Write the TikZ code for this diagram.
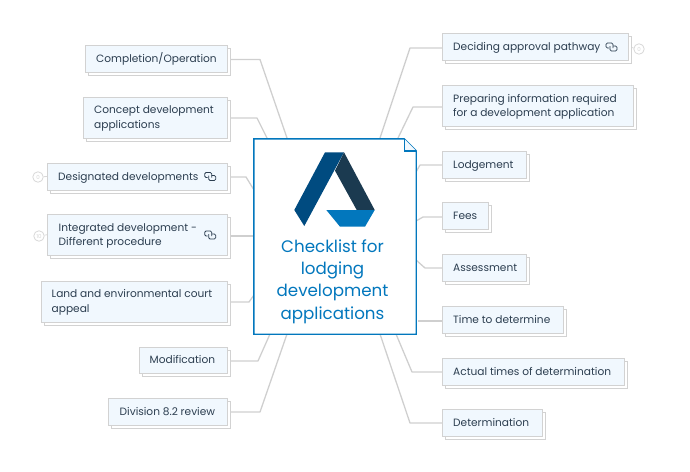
\documentclass[tikz,border=0pt]{standalone}
\usepackage{fontspec}
\setmainfont{Poppins}
\usetikzlibrary{shadows,backgrounds}
\definecolor{boxfill}{HTML}{F1F8FE}
\definecolor{boxline}{HTML}{D2D2D2}
\definecolor{wire}{HTML}{CFCFCF}
\definecolor{ink}{HTML}{2C3E50}
\definecolor{brand}{HTML}{0277BD}
\definecolor{logoa}{HTML}{004B80}
\definecolor{logob}{HTML}{1B3A50}
\definecolor{badge}{HTML}{D8D8D8}
\tikzset{
  topic/.style={draw=boxline,fill=boxfill,line width=1pt,inner sep=0pt,
    copy shadow={shadow xshift=3pt,shadow yshift=-3pt,draw=boxline,fill=white,line width=1pt}},
  wireline/.style={draw=wire,line width=1.3pt,line join=round},
  linkicon/.style={draw=ink,line width=0.75pt,rounded corners=1.3pt},
  badgec/.style={circle,draw=badge,line width=0.8pt,fill=white,minimum size=10.5pt,inner sep=0pt,text=badge,font=\fontsize{5.5}{6}\selectfont},
}
% name, x1, y1, x2, y2, text x, text
\newcommand{\tbox}[7]{%
  \node[topic,minimum width=#4pt-#2pt,minimum height=#5pt-#3pt] (#1) at ({(#2+#4)/2},{(#3+#5)/2}) {};
  \node[anchor=west,inner sep=0pt,font=\fontsize{10.6}{14.5}\selectfont,text=ink,align=left] (#1t) at (#6,{(#3+#5)/2+0.6}) {\strut #7\strut};
}
\newcommand{\licon}[2]{%
  \begin{scope}[shift={(#1,#2)}]
    \draw[linkicon] (-2.5,1) -- (-5.5,1) -- (-5.5,-4) -- (1.5,-4) -- (1.5,1);
    \draw[linkicon] (1.5,-1) -- (5.5,-1) -- (5.5,4) -- (-1.5,4) -- (-1.5,-1);
  \end{scope}
}
\begin{document}
\begin{tikzpicture}[x=1pt,y=-1pt]
\useasboundingbox (0,0) rectangle (690,471);
% left topics
\tbox{comp}{85}{45}{227}{72}{96}{Completion/Operation}
\tbox{conc}{83.5}{97}{227}{138}{94}{Concept development\\applications}
\tbox{desi}{47.5}{163}{227}{190}{58}{Designated developments}
\tbox{inte}{47.5}{214.5}{227}{255}{58.5}{Integrated development -\\Different procedure}
\tbox{land}{41}{281}{227}{322}{51.5}{Land and environmental court\\appeal}
\tbox{modi}{139}{347}{227}{373.5}{149.5}{Modification}
\tbox{divi}{108.5}{398}{227}{425}{119.5}{Division 8.2 review}
% right topics
\tbox{deci}{442.5}{33.5}{628.5}{60.5}{453}{Deciding approval pathway}
\tbox{prep}{442.5}{85.5}{633.5}{126.5}{453}{Preparing information required\\for a development application}
\tbox{lodg}{442.5}{151}{526}{178}{453}{Lodgement}
\tbox{fees}{442.5}{202.5}{488}{229.5}{453}{Fees}
\tbox{asse}{442.5}{254}{526}{281}{453}{Assessment}
\tbox{time}{442.5}{306}{563.5}{333}{453}{Time to determine}
\tbox{actu}{442.5}{358}{624}{385}{453}{Actual times of determination}
\tbox{dete}{442.5}{409.5}{542}{436.5}{453}{Determination}
% link icons
\licon{210.2}{176.5}
\licon{210.2}{235}
\licon{611.5}{47}
% badges
\node[badgec] (b1) at (38,177) {0};
\node[badgec] (b2) at (39,236) {10};
\node[badgec] (b3) at (639,49) {0};
% central document
\node[inner sep=0pt,minimum width=162pt,minimum height=195pt] (cen) at (335,236.5) {};
\draw[brand,line width=1.4pt,fill=white,line join=miter] (cen.north west) -- ([xshift=-12pt]cen.north east) -- ([yshift=-12pt]cen.north east) -- (cen.south east) -- (cen.south west) -- cycle;
\fill[boxfill] ([xshift=-12pt]cen.north east) -- ([xshift=-12pt,yshift=-12pt]cen.north east) -- ([yshift=-12pt]cen.north east) -- cycle;
\draw[brand,line width=1.4pt] ([xshift=-12pt]cen.north east) -- ([xshift=-12pt,yshift=-12pt]cen.north east) -- ([yshift=-12pt]cen.north east);
\fill[logoa] (294.3,210) -- (325,152.3) -- (344,152.3) -- (304.3,226) -- cycle;
\fill[logob] (344,152.3) -- (374.7,210) -- (356.7,210) -- (335,170.7) -- cycle;
\fill[brand] (326.3,210) -- (374.7,210) -- (365,226.7) -- (340,226.7) -- cycle;
\node[align=center,inner sep=0pt,text=brand,font=\fontsize{16.7}{22.3}\selectfont] (ctext) at (332.5,281.5) {Checklist for\\lodging\\development\\applications};
% connector bends and ends
\begin{pgfonlayer}{background}
\foreach \nm/\bx/\by/\ex/\ey in {comp/260/59.5/287/138,conc/257/118/267/138,desi/246/177/254/190,inte/240/236/253/236,land/249/302/254/295,modi/258/361/270/334,divi/260/412/287/334}{
  \coordinate (bend) at (\bx,\by);
  \coordinate (end) at (\ex,\ey);
  \draw[wireline] (\nm.east |- bend) -- (bend) -- (end);
}
\foreach \nm/\bx/\by/\ex/\ey in {deci/410/48/380/138,prep/413/107/398/138,lodg/420/165/416/172,fees/423/217/416/221,asse/425/268/416/260,time/430/321/418/321,actu/412/372/396/334,dete/410/423/380/334}{
  \coordinate (bend) at (\bx,\by);
  \coordinate (end) at (\ex,\ey);
  \draw[wireline] (\nm.west |- bend) -- (bend) -- (end);
}
\draw[draw=badge,line width=0.8pt] (b1) -- (desi.west);
\draw[draw=badge,line width=0.8pt] (b2) -- (inte.west);
\draw[draw=badge,line width=0.8pt] (b3) -- (deci.east);
\end{pgfonlayer}
\end{tikzpicture}
\end{document}
